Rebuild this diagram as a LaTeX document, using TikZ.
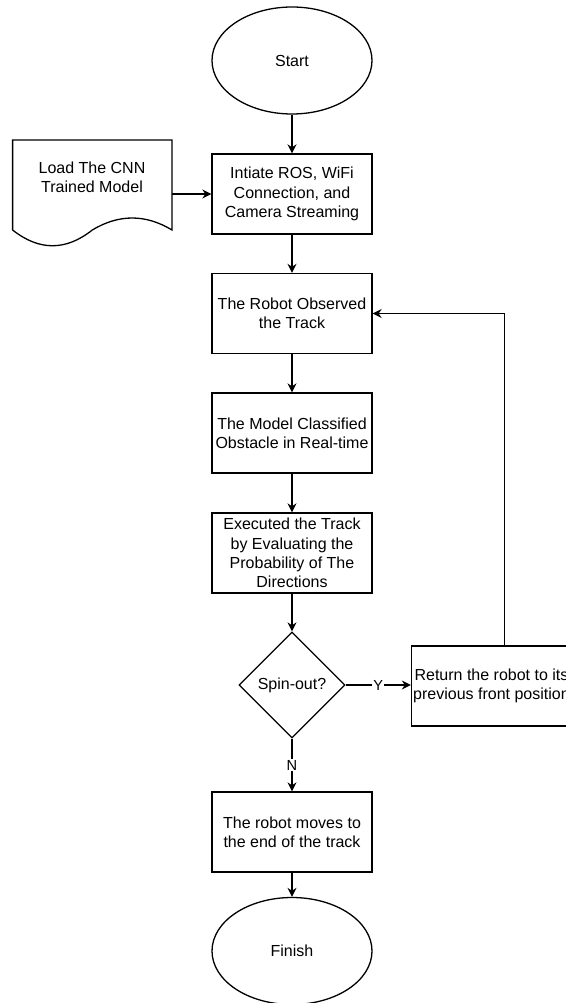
\documentclass[tikz,border=0pt]{standalone}
\usepackage{fontspec}
\setmainfont{Liberation Sans}
\usetikzlibrary{shapes.geometric}
\usetikzlibrary{arrows.meta}

\begin{document}
\begin{tikzpicture}[x=1pt, y=-1pt, line width=1.3pt,
    font=\fontsize{16}{19.4}\selectfont,
    >={Stealth[length=9pt, width=9pt]},
    terminal/.style={draw, ellipse, minimum width=160pt, minimum height=107pt, inner sep=0pt},
    process/.style={draw, rectangle, minimum width=160pt, minimum height=80pt, inner sep=0pt, align=center},
    decision/.style={draw, diamond, aspect=1, minimum width=106pt, minimum height=106pt, inner sep=0pt},
    edgelabel/.style={fill=white, inner sep=1pt, font=\fontsize{14.6}{17}\selectfont}]
    \useasboundingbox (0,0) rectangle (565,1003);

    \node[terminal] (start) at (292,60.5) {Start};
    \node[process] (init) at (292,194) {Intiate ROS, WiFi\\Connection, and\\Camera Streaming};

    \draw (12.6,140) -- (172,140) -- (172,230)
        .. controls (145.5,214) and (118.9,214) .. (92.3,230)
        .. controls (65.8,251) and (39.2,251) .. (12.6,230) -- cycle;
    \node[align=center] (load) at (92,177.5) {Load The CNN\\Trained Model};
    \coordinate (loadout) at (172,194);

    \node[process] (obs) at (292,313.5) {The Robot Observed\\the Track};
    \node[process] (cls) at (292,433) {The Model Classified\\Obstacle in Real-time};
    \node[process] (exe) at (292,553) {Executed the Track\\by Evaluating the\\Probability of The\\Directions};
    \node[decision] (dec) at (292,685) {Spin-out?};
    \node[process] (ret) at (491.5,686) {Return the robot to its\\previous front position};
    \node[process] (mov) at (292,832) {The robot moves to\\the end of the track};
    \node[terminal] (fin) at (292,951) {Finish};

    \draw[->] (start) -- (init);
    \draw[->] (loadout) -- (init.west);
    \draw[->] (init) -- (obs);
    \draw[->] (obs) -- (cls);
    \draw[->] (cls) -- (exe);
    \draw[->] (exe) -- (dec);
    \draw[->] (dec.east) -- node[edgelabel] {Y} (dec.east -| ret.west);
    \draw[->] (dec) -- node[edgelabel] {N} (mov);
    \draw[->] (mov) -- (fin);
    \draw[->] ([xshift=13pt]ret.north) |- (obs.east);
\end{tikzpicture}
\end{document}
